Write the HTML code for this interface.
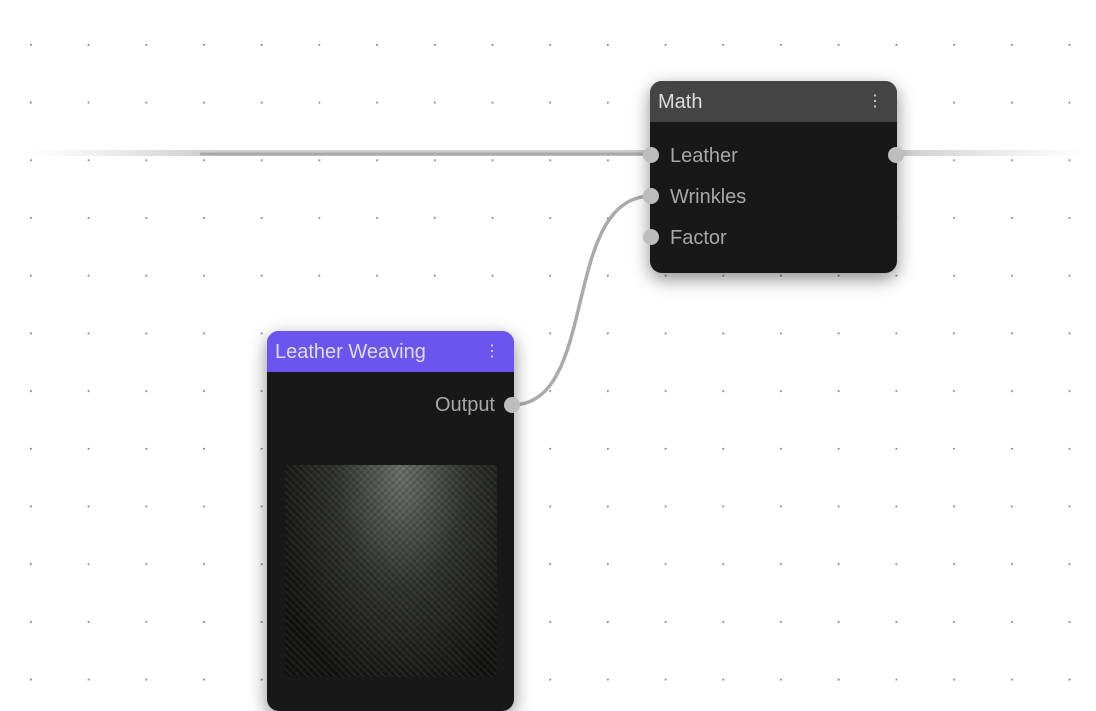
<!DOCTYPE html>
<html><head><style>
body{margin:0;width:1096px;height:697px;overflow:hidden;background:#fff;font-family:"Liberation Sans",sans-serif;position:relative}
.node{position:absolute;background:#181818;border-radius:12px;box-shadow:0 6px 18px rgba(0,0,0,.45);overflow:hidden}
.hdr{height:41px;color:#ddd;font-size:20px;line-height:42px;padding-left:8px;position:relative}
.dots3{position:absolute;right:14px;top:0;font-size:16px;color:#ddd}
.lbl{position:absolute;color:#a8a8a8;font-size:20px}
.port{position:absolute;width:16px;height:16px;border-radius:50%;background:#bdbdbd}
</style></head><body>
<svg width="1096" height="697" style="position:absolute;left:0;top:0">
<defs>
<pattern id="g" x="0" y="0" width="57.7" height="57.7" patternUnits="userSpaceOnUse" patternTransform="translate(30,44)">
<circle cx="0.5" cy="0.5" r="1.4" fill="#888"/></pattern>
<linearGradient id="lw" x1="0" x2="1"><stop offset="0" stop-color="#bbb" stop-opacity="0"/><stop offset="0.3" stop-color="#aaa"/><stop offset="1" stop-color="#aaa"/></linearGradient>
<linearGradient id="rw" x1="0" x2="1"><stop offset="0" stop-color="#aaa"/><stop offset="1" stop-color="#bbb" stop-opacity="0"/></linearGradient>
</defs>
<rect width="1096" height="697" fill="url(#g)"/>
<rect x="30" y="150" width="622" height="6" fill="url(#lw)" opacity=".6"/>
<rect x="895" y="150" width="190" height="6" fill="url(#rw)" opacity=".6"/>
<line x1="200" y1="154" x2="652" y2="154" stroke="#aaa" stroke-width="3"/>
<path d="M512 405 C600 405,560 196,652 196" fill="none" stroke="#aaa" stroke-width="3.5"/>
</svg>
<div class="node" style="left:650px;top:81px;width:247px;height:192px">
<div class="hdr" style="background:#444">Math<span class="dots3">⋮</span></div>
<div class="lbl" style="left:20px;top:64px">Leather</div>
<div class="lbl" style="left:20px;top:105px">Wrinkles</div>
<div class="lbl" style="left:20px;top:146px">Factor</div>
</div>
<div class="port" style="left:643px;top:147px"></div>
<div class="port" style="left:643px;top:188px"></div>
<div class="port" style="left:643px;top:229px"></div>
<div class="port" style="left:888px;top:147px"></div>
<div class="node" style="left:267px;top:331px;width:247px;height:380px">
<div class="hdr" style="background:#6c55ef">Leather Weaving<span class="dots3">⋮</span></div>
<div class="lbl" style="right:19px;top:63px">Output</div>
<div style="position:absolute;left:18px;top:134px;width:212px;height:212px;background:radial-gradient(ellipse at 55% 5%,#6a6d68 0%,#2e302d 40%,#121311 80%),#111;"><div style="width:100%;height:100%;background:repeating-linear-gradient(45deg,rgba(255,255,255,.06) 0 2px,transparent 2px 5px),repeating-linear-gradient(-45deg,rgba(0,0,0,.15) 0 2px,transparent 2px 5px)"></div></div>
</div>
<div class="port" style="left:504px;top:397px"></div>
</body></html>
